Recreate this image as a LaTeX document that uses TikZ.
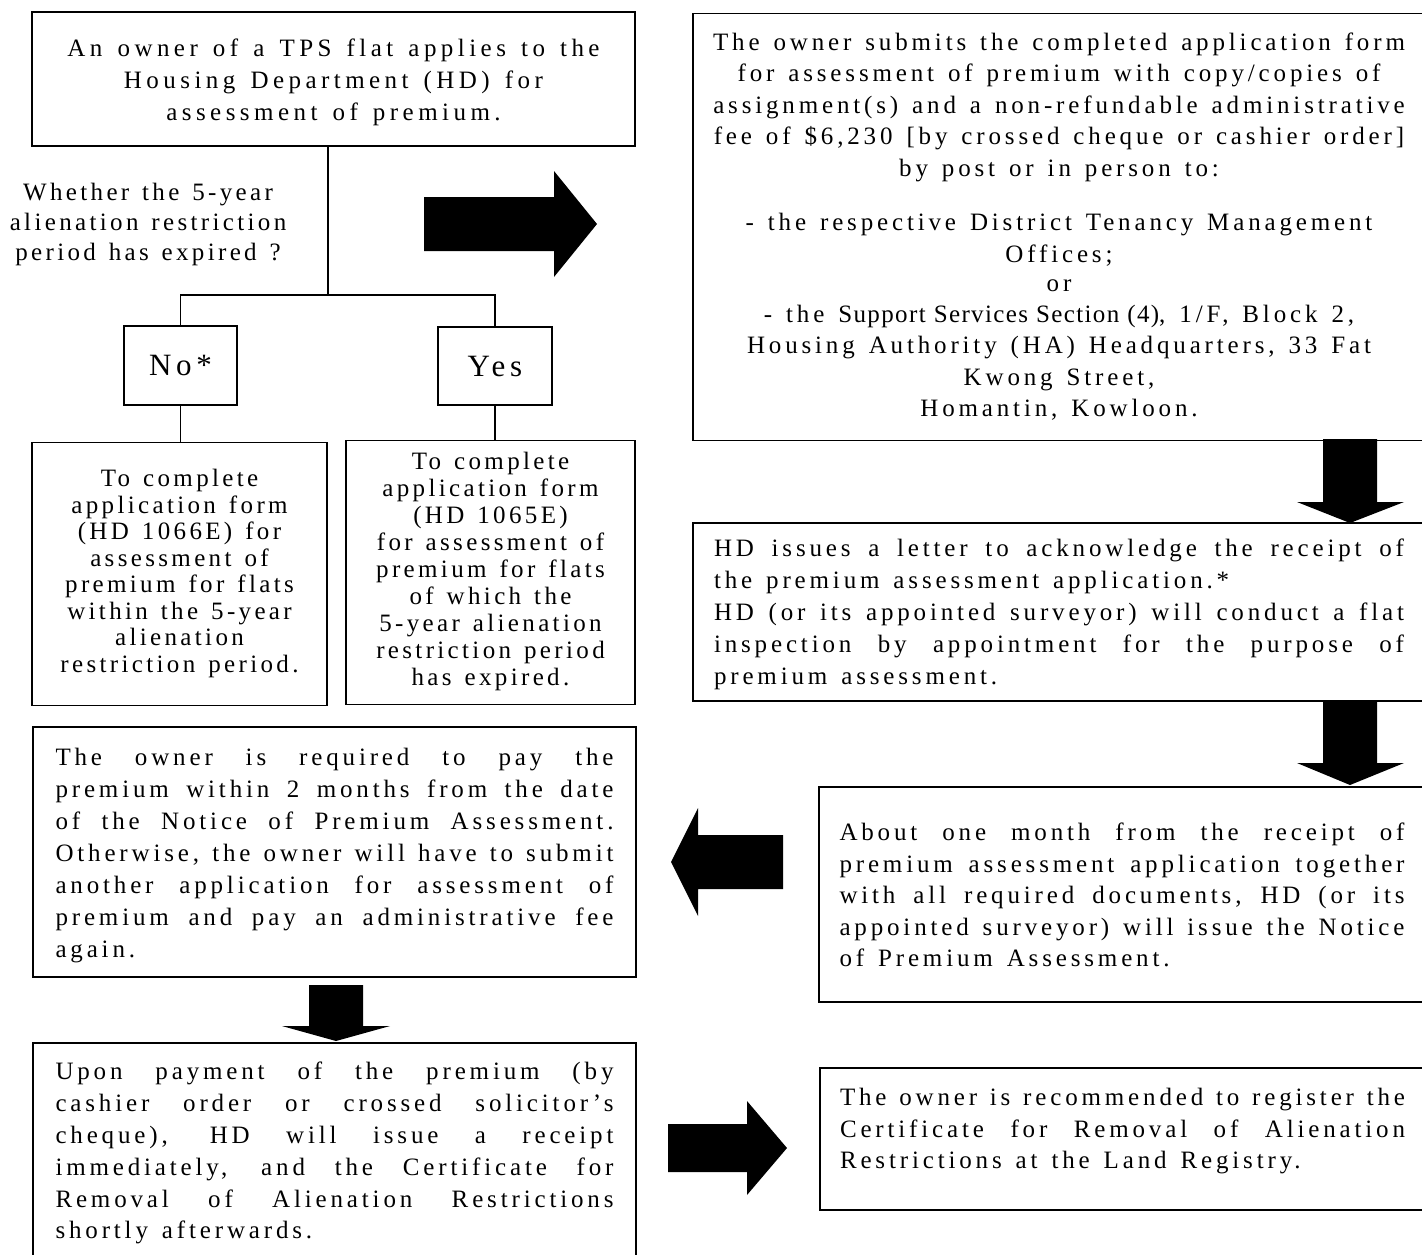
\documentclass[tikz,border=0pt]{standalone}
\usepackage{fontspec}
\setmainfont{Liberation Serif}
\newfontfamily\fA{Liberation Serif}[LetterSpace=17.8,Ligatures=NoCommon]
\newfontfamily\fT{Liberation Serif}[LetterSpace=15.4,Ligatures=NoCommon]
\newfontfamily\fL{Liberation Serif}[LetterSpace=13.4,Ligatures=NoCommon]
\newfontfamily\fN{Liberation Serif}[LetterSpace=5.5,Ligatures=NoCommon]
% fixed word space for centred / ragged lines
\newcommand\sk[1]{\spaceskip=#1em\relax\xspaceskip=\spaceskip}
% justified line: spaces stretch (and shrink a little)
\newcommand\jl[2]{\makebox[#1][s]{\spaceskip=\the\spaceskip plus 20em minus 0.2em\relax\xspaceskip=\spaceskip#2}}
% slightly taller strut for the first line (moves a text block down a little)
\newcommand\ts{\rule{0pt}{\dimexpr0.7\baselineskip+5pt\relax}}
\begin{document}
\begin{tikzpicture}[x=1pt,y=-1pt,
  box/.style={draw=black, line width=1.6pt, inner sep=0pt, rectangle},
  conn/.style={line width=1.3pt},
  blk/.style={fill=black},
  txt/.style={font=\fT\fontsize{25}{32}\selectfont}
]
\fill[white] (0,0) rectangle (1422,1254);
\useasboundingbox (0,0) rectangle (1422,1254);

% top-left box
\node[box, minimum width=603pt, minimum height=134pt, text width=595pt, align=center,
      font=\fA\fontsize{25}{32}\selectfont] (A) at (333.5,79)
  {\sk{0.605}\rule{0pt}{\dimexpr0.7\baselineskip+6pt\relax}An owner of a TPS flat applies to the\\ Housing Department (HD) for\\ assessment of premium.\strut};

% question
\node[align=center, text width=300pt, inner sep=0pt, font=\fL\fontsize{25}{30}\selectfont] (q) at (148,224)
  {\sk{0.515}\strut Whether the 5-year\\ alienation restriction\\ period has expired ?\strut};

% No / Yes
\node[box, minimum width=113pt, minimum height=79pt, font=\fT\fontsize{31}{36}\selectfont] (no) at (180.5,365.5) {No*};
\node[box, minimum width=114pt, minimum height=78pt, font=\fT\fontsize{31}{36}\selectfont] (yes) at (495,366) {Yes};

% L1 / L2
\node[box, minimum width=295pt, minimum height=263pt, text width=290pt, align=center,
      font=\fL\fontsize{25}{26.5}\selectfont] (L1) at (179.5,574)
  {\sk{0.52}\strut To complete\\ application form\\ (HD 1066E) for\\ assessment of\\ premium for flats\\ within the 5-year\\ alienation\\ restriction period.\strut};
\node[box, minimum width=289pt, minimum height=264pt, text width=285pt, align=center,
      font=\fL\fontsize{25}{27}\selectfont] (L2) at (490.5,572.5)
  {\sk{0.52}\strut To complete\\ application form\\ (HD 1065E)\\ for assessment of\\ premium for flats\\ of which the\\ 5-year alienation\\ restriction period\\ has expired.\strut};

% top-right box
\node[box, minimum width=732pt, minimum height=427pt, text width=725pt, align=center,
      font=\fT\fontsize{25}{31.5}\selectfont] (B) at (1059,227)
  {\sk{0.557}\strut The owner submits the completed application form\\
   for assessment of premium with copy/copies of\\
   assignment(s) and a non-refundable administrative\\
   fee of \$6,230 [by crossed cheque or cashier order]\\
   by post or in person to:\\[23pt]
   - the respective District Tenancy Management\\
   Offices;\\[-2pt]
   or\\[-1pt]
   - the {\fN\sk{0.32}Support Services Section (4)}, 1/F, Block 2,\\
   Housing Authority (HA) Headquarters, 33 Fat\\
   Kwong Street,\\
   Homantin, Kowloon.\strut};

% box C
\node[box, minimum width=732pt, minimum height=178pt, text width=690pt, align=left, txt] (C) at (1059,612)
  {\sk{0.557}\ts\jl{690pt}{HD issues a letter to acknowledge the receipt of}\\
   the premium assessment application.*\\
   \jl{690pt}{HD (or its appointed surveyor) will conduct a flat}\\
   \jl{690pt}{inspection by appointment for the purpose of}\\
   premium assessment.\strut};

% box D
\node[box, minimum width=606pt, minimum height=215pt, text width=565pt, align=left,
      font=\fT\fontsize{25}{31.5}\selectfont] (D) at (1122,894.5)
  {\sk{0.557}\rule{0pt}{\dimexpr0.7\baselineskip+6pt\relax}\jl{565pt}{About one month from the receipt of}\\
   \jl{565pt}{premium assessment application together}\\
   \jl{565pt}{with all required documents, HD (or its}\\
   \jl{565pt}{appointed surveyor) will issue the Notice}\\
   of Premium Assessment.\strut};

% box E
\node[box, minimum width=603pt, minimum height=250pt, text width=558pt, align=left, txt] (E) at (334.5,852)
  {\sk{0.557}\rule{0pt}{\dimexpr0.7\baselineskip+6pt\relax}\jl{558pt}{The owner is required to pay the}\\
   \jl{558pt}{premium within 2 months from the date}\\
   \jl{558pt}{of the Notice of Premium Assessment.}\\
   \jl{558pt}{Otherwise, the owner will have to submit}\\
   \jl{558pt}{another application for assessment of}\\
   \jl{558pt}{premium and pay an administrative fee}\\
   again.\strut};

% box F
\node[box, minimum width=603pt, minimum height=215pt, text width=558pt, align=left,
      font=\fT\fontsize{25}{31.8}\selectfont] (F) at (334.5,1150.5)
  {\sk{0.557}\ts\jl{558pt}{Upon payment of the premium (by}\\
   \jl{558pt}{cashier order or crossed solicitor’s}\\
   \jl{558pt}{cheque), HD will issue a receipt}\\
   \jl{558pt}{immediately, and the Certificate for}\\
   \jl{558pt}{Removal of Alienation Restrictions}\\
   shortly afterwards.\strut};

% box G
\node[box, minimum width=605pt, minimum height=142pt, text width=565pt, align=left,
      font=\fT\fontsize{25}{31.5}\selectfont] (G) at (1122.5,1139)
  {\sk{0.557}\ts\jl{565pt}{The owner is recommended to register the}\\
   \jl{565pt}{Certificate for Removal of Alienation}\\
   Restrictions at the Land Registry.\\[-10.5pt]\strut};

% connectors
\coordinate (j) at (328,295);
\draw[conn] (A.south -| j) -- (j);
\draw[conn] (no.north) -- (no.north |- j) -- (yes.north |- j) -- (yes.north);
\draw[conn] (no.south) -- (no.south |- L1.north);
\draw[conn] (yes.south) -- (yes.south |- L2.north);

% block arrows
\fill[blk] (424,197) -- (554,197) -- (554,171) -- (597,224) -- (554,277) -- (554,251) -- (424,251) -- cycle;
\fill[blk] (1323,439) -- (1377,439) -- (1377,502) -- (1404,502) -- (1350,523) -- (1297,502) -- (1323,502) -- cycle;
\fill[blk] (1323,701) -- (1377,701) -- (1377,763) -- (1404,763) -- (1350,785) -- (1297,763) -- (1323,763) -- cycle;
\fill[blk] (783,835) -- (698,835) -- (698,808) -- (671,862) -- (698,916) -- (698,889) -- (783,889) -- cycle;
\fill[blk] (309,985) -- (363,985) -- (363,1026) -- (390,1026) -- (336,1041) -- (282,1026) -- (309,1026) -- cycle;
\fill[blk] (668,1124) -- (747,1124) -- (747,1101) -- (787,1148) -- (747,1195) -- (747,1172) -- (668,1172) -- cycle;
\end{tikzpicture}
\end{document}
